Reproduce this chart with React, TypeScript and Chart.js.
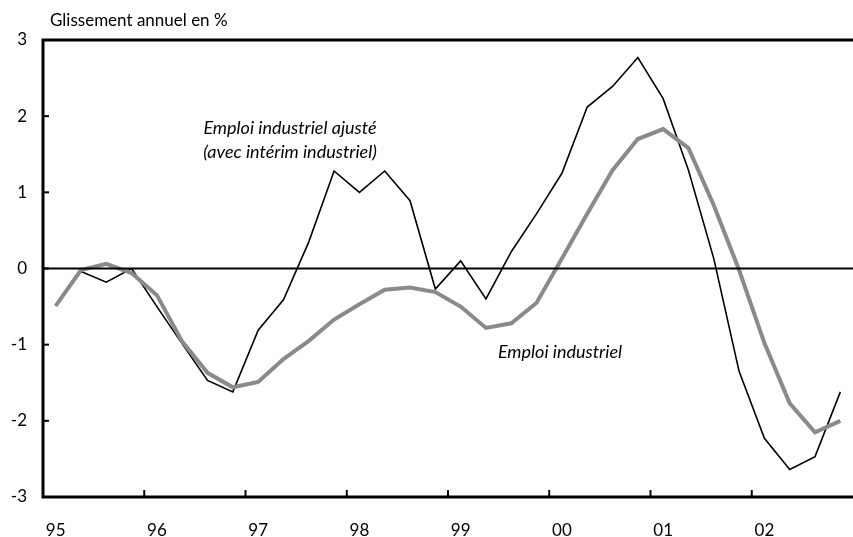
import React, { useEffect, useRef } from "react";
import { Chart, registerables } from "chart.js";

Chart.register(...registerables);

const years = ["95", "96", "97", "98", "99", "00", "01", "02"];
const quarters = years.flatMap((y) => [1, 2, 3, 4].map((q) => `${y}T${q}`));

const emploiAjuste = [
  -0.49, -0.04, -0.18, 0.0, -0.5, -0.99, -1.47, -1.62,
  -0.81, -0.41, 0.35, 1.28, 1.0, 1.28, 0.89, -0.27,
  0.1, -0.4, 0.22, 0.72, 1.25, 2.12, 2.39, 2.77,
  2.23, 1.29, 0.13, -1.35, -2.23, -2.64, -2.47, -1.62,
];
const emploiIndustriel = [
  -0.49, -0.02, 0.06, -0.06, -0.35, -0.96, -1.37, -1.56,
  -1.49, -1.19, -0.95, -0.67, -0.47, -0.28, -0.25, -0.31,
  -0.5, -0.78, -0.72, -0.45, 0.13, 0.72, 1.29, 1.7,
  1.83, 1.58, 0.83, -0.02, -0.98, -1.77, -2.15, -2.0,
];
const yTicks = [-3, -2, -1, 0, 1, 2, 3];

const FONT = "Lato, 'Open Sans', sans-serif";

const framePlugin = {
  id: "frame",
  afterDatasetsDraw(chart: any) {
    const { ctx, chartArea, scales } = chart;
    const xs = scales.x;
    const ys = scales.y;
    ctx.save();
    ctx.strokeStyle = "#000";
    ctx.lineCap = "butt";
    // zero line
    ctx.lineWidth = 2;
    const y0 = ys.getPixelForValue(0);
    ctx.beginPath();
    ctx.moveTo(chartArea.left, y0);
    ctx.lineTo(chartArea.right, y0);
    ctx.stroke();
    // frame lines
    ctx.lineWidth = 3;
    ctx.beginPath();
    ctx.moveTo(chartArea.right, chartArea.top);
    ctx.lineTo(chartArea.left, chartArea.top);
    ctx.lineTo(chartArea.left, chartArea.bottom);
    ctx.lineTo(chartArea.right, chartArea.bottom);
    ctx.stroke();
    // y ticks
    ctx.lineWidth = 2;
    yTicks.forEach((v) => {
      const py = ys.getPixelForValue(v);
      ctx.beginPath();
      ctx.moveTo(chartArea.left, py);
      ctx.lineTo(chartArea.left + 6, py);
      ctx.stroke();
    });
    // x ticks at year boundaries
    const half = (xs.getPixelForValue(1) - xs.getPixelForValue(0)) / 2;
    for (let i = 4; i < quarters.length; i += 4) {
      const px = xs.getPixelForValue(i) - half;
      ctx.beginPath();
      ctx.moveTo(px, chartArea.bottom);
      ctx.lineTo(px, chartArea.bottom - 7);
      ctx.stroke();
    }
    // annotations
    ctx.fillStyle = "#000";
    ctx.font = `italic 18px ${FONT}`;
    ctx.textAlign = "center";
    ctx.textBaseline = "middle";
    ctx.fillText("Emploi industriel ajusté", 290, 128);
    ctx.fillText("(avec intérim industriel)", 290, 152);
    ctx.fillText("Emploi industriel", 560, 352);
    // title
    ctx.font = `17px ${FONT}`;
    ctx.textAlign = "left";
    ctx.fillText("Glissement annuel en %", 50, 21);
    ctx.restore();
  },
};

export default function App() {
  const ref = useRef<HTMLCanvasElement>(null);
  useEffect(() => {
    if (!ref.current) return;
    const chart = new Chart(ref.current, {
      type: "line",
      data: {
        labels: quarters,
        datasets: [
          {
            label: "Emploi industriel",
            data: emploiIndustriel,
            borderColor: "#8a8a8a",
            borderWidth: 4,
            pointRadius: 0,
            tension: 0,
            borderJoinStyle: "miter",
          },
          {
            label: "Emploi industriel ajusté (avec intérim industriel)",
            data: emploiAjuste,
            borderColor: "#000",
            borderWidth: 1.6,
            pointRadius: 0,
            tension: 0,
            borderJoinStyle: "miter",
          },
        ],
      },
      options: {
        animation: false,
        responsive: false,
        maintainAspectRatio: false,
        layout: { padding: { top: 40, right: -3, left: 0, bottom: 0 } },
        plugins: { legend: { display: false }, tooltip: { enabled: false } },
        scales: {
          x: {
            type: "category",
            offset: true,
            grid: { display: false, drawTicks: false },
            border: { display: false },
            ticks: {
              autoSkip: false,
              maxRotation: 0,
              padding: 23,
              color: "#000",
              font: { family: FONT, size: 17 },
              callback: (_v: any, i: number) => (i % 4 === 0 ? years[i / 4] : ""),
            },
            afterFit: (s: any) => {
              s.height = 40;
              s.paddingRight = -3;
              s.paddingLeft = 0;
            },
          },
          y: {
            min: -3,
            max: 3,
            grid: { display: false, drawTicks: false },
            border: { display: false },
            ticks: {
              stepSize: 1,
              padding: 16,
              color: "#000",
              font: { family: FONT, size: 17 },
            },
            afterFit: (s: any) => {
              s.width = 43;
            },
          },
        },
      },
      plugins: [framePlugin],
    });
    return () => chart.destroy();
  }, []);
  return (
    <div style={{ position: "fixed", left: 0, top: 0, width: 853, height: 537, background: "#fff" }}>
      <canvas ref={ref} width={853} height={537} />
    </div>
  );
}
